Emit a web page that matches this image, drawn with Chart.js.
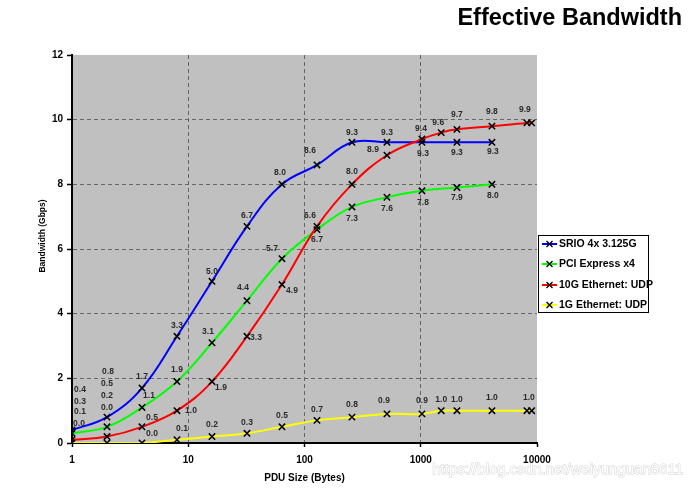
<!DOCTYPE html>
<html>
<head>
<meta charset="utf-8">
<script src="https://cdn.jsdelivr.net/npm/chart.js@4/dist/chart.umd.min.js"></script>
<style>
  html, body { margin: 0; padding: 0; background: #ffffff; }
  #wrap { position: relative; width: 692px; height: 490px; }
</style>
</head>
<body>
<div id="wrap"><canvas id="c" width="692" height="490"></canvas></div>
<script>
// ---- data ----
const chartTitle = 'Effective Bandwidth';
const xAxisTitle = 'PDU Size (Bytes)';
const yAxisTitle = 'Bandwidth (Gbps)';
const watermark = 'https://blog.csdn.net/weiyunguan8611';
const xTickValues = [1, 10, 100, 1000, 10000];
const yTickValues = [0, 2, 4, 6, 8, 10, 12];

const seriesNames = ['SRIO 4x 3.125G', 'PCI Express x4', '10G Ethernet: UDP', '1G Ethernet: UDP'];
const seriesColors = ['#0000ff', '#00ff00', '#ff0000', '#ffff00'];

const sizesShort = [1, 2, 4, 8, 16, 32, 64, 128, 256, 512, 1024, 2048, 4096];
const sizesLong  = [1, 2, 4, 8, 16, 32, 64, 128, 256, 512, 1024, 1500, 2048, 4096, 8192, 9000];

const srio  = [0.4, 0.8, 1.7, 3.3, 5.0, 6.7, 8.0, 8.6, 9.3, 9.3, 9.3, 9.3, 9.3];
const pcie  = [0.3, 0.5, 1.1, 1.9, 3.1, 4.4, 5.7, 6.6, 7.3, 7.6, 7.8, 7.9, 8.0];
const eth10 = [0.1, 0.2, 0.5, 1.0, 1.9, 3.3, 4.9, 6.7, 8.0, 8.9, 9.4, 9.6, 9.7, 9.8, 9.9, 9.9];
const eth1  = [0.0, 0.0, 0.0, 0.1, 0.2, 0.3, 0.5, 0.7, 0.8, 0.9, 0.9, 1.0, 1.0, 1.0, 1.0, 1.0];

// ---- label placement (pixel offsets from each point), not data ----
const labelOffsets = [
  [[8,-40],[1,-45],[0,-11],[0,-11],[0,-10],[0,-11],[-2,-12],[-7,-14],[0,-10],[0,-10],[1,11],[0,10],[1,9]],
  [[8,-32],[0,-43],[7,-12],[0,-12],[-4,-11],[-4,-13],[-10,-10],[-7,-14],[0,12],[0,11],[1,12],[0,10],[1,11]],
  [[8,-28],[0,-41],[10,-9],[14,0],[9,6],[9,1],[10,6],[0,13],[0,-13],[-14,-6],[-1,-10],[-3,-10],[0,-15],[0,-14],[-2,-13],null],
  [[7,-19],[0,-35],[10,-9],[5,-11],[0,-12],[0,-11],[0,-11],[0,-11],[0,-12],[-3,-13],[0,-13],[0,-11],[0,-11],[0,-13],[2,-13],null]
];

const seriesX = [sizesShort, sizesShort, sizesLong, sizesLong];
const seriesY = [srio, pcie, eth10, eth1];

const datasets = seriesY.map((ys, i) => ({
  label: seriesNames[i],
  data: ys.map((y, j) => ({ x: seriesX[i][j], y: y })),
  borderColor: seriesColors[i],
  backgroundColor: seriesColors[i],
  borderWidth: 2,
  tension: 0.4,
  fill: false,
  pointStyle: 'crossRot',
  pointRadius: 4.5,
  pointHoverRadius: 4.5,
  pointBorderColor: '#000000',
  pointBorderWidth: 1.5,
  order: 3 - i
}));

const bgPlugin = {
  id: 'plotBg',
  beforeDraw(chart) {
    const { ctx, chartArea: a } = chart;
    ctx.save();
    // watermark (behind everything)
    ctx.font = '15px "Liberation Sans", Arial, sans-serif';
    ctx.textAlign = 'right';
    ctx.textBaseline = 'middle';
    ctx.fillStyle = '#ffffff';
    ctx.strokeStyle = 'rgba(175,175,175,0.55)';
    ctx.lineWidth = 1;
    ctx.strokeText(watermark, 683, 470);
    ctx.fillText(watermark, 683, 470);
    // plot background
    ctx.fillStyle = '#c0c0c0';
    ctx.fillRect(a.left, a.top, a.right - a.left, a.bottom - a.top);
    ctx.restore();
  }
};

const labelPlugin = {
  id: 'pointLabels',
  afterDatasetsDraw(chart) {
    const ctx = chart.ctx;
    ctx.save();
    ctx.font = 'bold 8.5px "Liberation Sans", Arial, sans-serif';
    ctx.fillStyle = '#2a2a2a';
    ctx.textAlign = 'center';
    ctx.textBaseline = 'middle';
    chart.data.datasets.forEach((ds, i) => {
      const meta = chart.getDatasetMeta(i);
      meta.data.forEach((pt, j) => {
        const off = labelOffsets[i][j];
        if (!off) return;
        ctx.fillText(ds.data[j].y.toFixed(1), pt.x + off[0], pt.y + off[1]);
      });
    });
    ctx.restore();
  }
};

const decorPlugin = {
  id: 'decor',
  afterDraw(chart) {
    const ctx = chart.ctx;
    ctx.save();
    // title
    ctx.font = 'bold 23.5px "Liberation Sans", Arial, sans-serif';
    ctx.fillStyle = '#000000';
    ctx.textAlign = 'right';
    ctx.textBaseline = 'alphabetic';
    ctx.fillText(chartTitle, 682, 25);
    // y axis title
    ctx.save();
    ctx.translate(43, 236);
    ctx.rotate(-Math.PI / 2);
    ctx.font = 'bold 8.5px "Liberation Sans", Arial, sans-serif';
    ctx.textAlign = 'center';
    ctx.textBaseline = 'middle';
    ctx.fillText(yAxisTitle, 0, 0);
    ctx.restore();
    // legend
    const bx = 538, by = 235, bw = 110, bh = 77;
    ctx.fillStyle = '#ffffff';
    ctx.fillRect(bx, by, bw, bh);
    ctx.strokeStyle = '#000000';
    ctx.lineWidth = 1;
    ctx.strokeRect(bx + 0.5, by + 0.5, bw, bh);
    const rowY = [244, 264, 285, 305];
    chart.data.datasets.forEach((ds, i) => {
      const y = rowY[i];
      ctx.strokeStyle = ds.borderColor;
      ctx.lineWidth = 2;
      ctx.beginPath();
      ctx.moveTo(542, y);
      ctx.lineTo(557, y);
      ctx.stroke();
      ctx.strokeStyle = '#000000';
      ctx.lineWidth = 1.3;
      ctx.beginPath();
      ctx.moveTo(546.5, y - 3); ctx.lineTo(552.5, y + 3);
      ctx.moveTo(552.5, y - 3); ctx.lineTo(546.5, y + 3);
      ctx.stroke();
      ctx.fillStyle = '#000000';
      ctx.font = 'bold 10.5px "Liberation Sans", Arial, sans-serif';
      ctx.textAlign = 'left';
      ctx.textBaseline = 'middle';
      ctx.fillText(ds.label, 559, y + 0.5);
    });
    ctx.restore();
  }
};

new Chart(document.getElementById('c'), {
  type: 'line',
  data: { datasets: datasets },
  options: {
    responsive: false,
    animation: false,
    events: [],
    layout: { padding: { top: 55, right: 155, bottom: 0, left: 0 } },
    plugins: {
      legend: { display: false },
      title: { display: false },
      tooltip: { enabled: false }
    },
    scales: {
      x: {
        type: 'logarithmic',
        min: 1,
        max: 10000,
        afterFit(s) { s.height = 47; },
        afterBuildTicks(s) { s.ticks = xTickValues.map(v => ({ value: v })); },
        ticks: {
          color: '#000000',
          font: { family: '"Liberation Sans", Arial, sans-serif', size: 10, weight: 'bold' },
          padding: 7,
          maxRotation: 0,
          autoSkip: false,
          callback: (v) => String(v)
        },
        grid: {
          color: (c) => (c.tick && (c.tick.value === 10000 || c.tick.value === 1)) ? 'rgba(0,0,0,0)' : '#666666',
          lineWidth: 1,
          drawTicks: true,
          tickLength: 4,
          tickColor: '#000000',
          tickWidth: 1.5,
          tickBorderDash: []
        },
        border: { display: true, color: '#000000', width: 2, dash: [4, 3] },
        title: {
          display: true,
          text: xAxisTitle,
          color: '#000000',
          font: { family: '"Liberation Sans", Arial, sans-serif', size: 10, weight: 'bold' },
          padding: { top: 0, bottom: 6 }
        }
      },
      y: {
        type: 'linear',
        min: 0,
        max: 12,
        afterFit(s) { s.width = 72; },
        afterBuildTicks(s) { s.ticks = yTickValues.map(v => ({ value: v })); },
        ticks: {
          color: '#000000',
          font: { family: '"Liberation Sans", Arial, sans-serif', size: 10, weight: 'bold' },
          padding: 4,
          callback: (v) => String(v)
        },
        grid: {
          color: (c) => (c.tick && (c.tick.value === 12 || c.tick.value === 0)) ? 'rgba(0,0,0,0)' : '#666666',
          lineWidth: 1,
          drawTicks: true,
          tickLength: 5,
          tickColor: '#000000',
          tickWidth: 1.5,
          tickBorderDash: []
        },
        border: { display: true, color: '#000000', width: 2, dash: [4, 3] },
        title: { display: false }
      }
    }
  },
  plugins: [bgPlugin, labelPlugin, decorPlugin]
});
</script>
</body>
</html>
